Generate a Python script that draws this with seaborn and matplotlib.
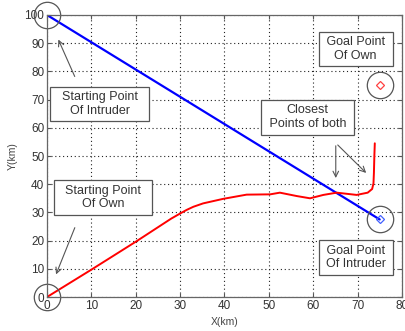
import numpy as np
import pandas as pd
import matplotlib
matplotlib.use("Agg")
import matplotlib.pyplot as plt
import seaborn as sns

# Trajectories (km)
own_x = [0, 10, 20, 28, 30, 31.5, 33, 35.2, 39.7, 45, 50.3, 52.5, 56.3, 59.3, 62.3, 65.3, 69.8, 72.3, 73.3, 73.6, 73.7, 73.8, 73.9]
own_y = [0, 9.7, 19.6, 27.8, 29.6, 30.9, 32, 33.2, 34.8, 36.3, 36.4, 37, 35.8, 35, 36.2, 37, 36.2, 37.0, 38.3, 40.3, 44, 50, 54.5]
intruder_x = [0, 75]
intruder_y = [100, 27.5]

start_own = (0, 0)
start_intruder = (0, 100)
goal_own = (75, 75)
goal_intruder = (75, 27.5)

xticks = list(range(0, 81, 10))
yticks = list(range(0, 101, 10))

sns.set_style("white")
plt.rcParams['font.family'] = ['Liberation Sans', 'DejaVu Sans']

fig = plt.figure(figsize=(4.06, 3.31), dpi=100)
ax = fig.add_axes([0.1158, 0.1027, 0.874, 0.852])

own = pd.DataFrame({"x": own_x, "y": own_y})
intr = pd.DataFrame({"x": intruder_x, "y": intruder_y})
sns.lineplot(data=intr, x="x", y="y", sort=False, color="#0000ff", lw=1.6, ax=ax)
sns.lineplot(data=own, x="x", y="y", sort=False, color="#ff0000", lw=1.4, ax=ax)

# goal markers
ax.plot(*goal_own, marker="D", ms=4, mfc="none", mec="#ff4040", mew=0.9)
ax.plot(*goal_intruder, marker="D", ms=4, mfc="none", mec="#4060ff", mew=0.9)

# circles around start / goal points
for p in [start_own, start_intruder, goal_own, goal_intruder]:
    ax.plot(*p, marker="o", ms=19, mfc="none", mec="#555555", mew=0.9, clip_on=False)

ax.set_xlim(0, 80)
ax.set_ylim(0, 100)
ax.set_xticks(xticks)
ax.set_yticks(yticks)
ax.grid(True, color="#222222", ls=(0, (1, 2.5)), lw=0.8)
ax.tick_params(direction="in", length=3, labelsize=8.5, colors="#555555",
               labelcolor="#333333", top=True, right=True, bottom=True, left=True, pad=2)
for s in ax.spines.values():
    s.set_color("#666666")
    s.set_linewidth(0.9)
ax.set_xlabel("X(km)", fontsize=7.5, color="#444444", labelpad=4)
ax.set_ylabel("Y(km)", fontsize=7.5, color="#444444", labelpad=5)

box = dict(boxstyle="square,pad=0.35", fc="white", ec="#555555", lw=0.9)
arr = dict(arrowstyle="->", color="#555555", lw=0.8)
tkw = dict(fontsize=9, color="#333333", ha="center", va="center", bbox=box, linespacing=1.2)

ax.annotate("", xy=(2.3, 92.2), xytext=(6.5, 77.3), arrowprops=arr)
ax.text(11.9, 68.4, "  Starting Point  \nOf Intruder", **tkw)

ax.annotate("", xy=(1.8, 7.1), xytext=(6.5, 25.5), arrowprops=arr)
ax.text(12.6, 35.3, "  Starting Point  \nOf Own", **tkw)

ax.text(69.6, 87.9, " Goal Point \nOf Own", **tkw)

ax.annotate("", xy=(65.1, 41.2), xytext=(65.1, 54.6), arrowprops=arr)
ax.annotate("", xy=(72.4, 43.3), xytext=(65.1, 54.6), arrowprops=arr)
ax.text(58.8, 63.7, "Closest\n Points of both ", **tkw)

ax.text(69.7, 14, " Goal Point \nOf Intruder", **tkw)

fig.savefig("out.png", dpi=100)
